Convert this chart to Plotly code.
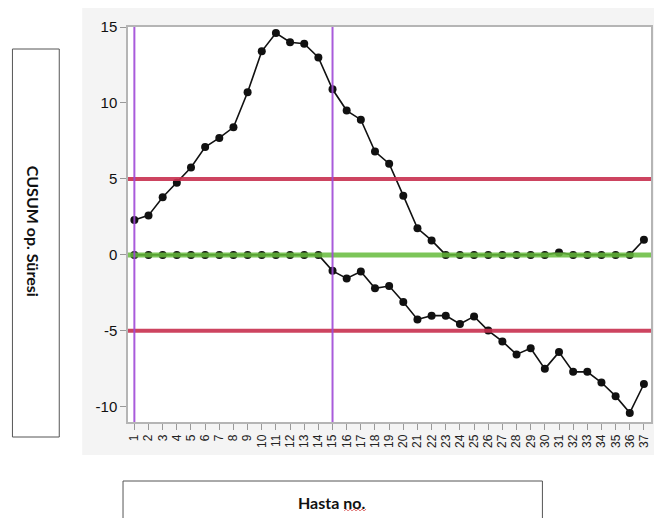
import plotly.graph_objects as go

hasta = list(range(1, 38))
cusum_upper = [2.3, 2.6, 3.8, 4.75, 5.75, 7.1, 7.7, 8.4, 10.7, 13.4, 14.6, 14.0, 13.9, 13.0,
               10.9, 9.5, 8.9, 6.8, 6.0, 3.9, 1.75, 0.95, 0, 0, 0, 0, 0, 0, 0, 0, 0.15,
               0, 0, 0, 0, 0, 1.0]
cusum_lower = [0, 0, 0, 0, 0, 0, 0, 0, 0, 0, 0, 0, 0, 0,
               -1.05, -1.55, -1.1, -2.2, -2.05, -3.1, -4.25, -4.0, -4.0, -4.55, -4.05,
               -4.98, -5.7, -6.55, -6.15, -7.5, -6.4, -7.7, -7.7, -8.4, -9.3, -10.4, -8.5]
limits = [5, -5]
center = 0
vlines = [1, 15]
y_ticks = [-10, -5, 0, 5, 10, 15]
y_ticktext = ["-10", "-5", "0", "5", "10", "15"]

W, H = 654, 510
L, T = 120, 19
PW, PH = 525, 395


def px(x):  # screen x -> paper fraction
    return (x - 8 - L) / PW


def py(y):  # screen y -> paper fraction
    return (T + PH - (y - 8)) / PH


fig = go.Figure()
for ys in (cusum_upper, cusum_lower):
    fig.add_trace(go.Scatter(
        x=hasta, y=ys, mode="lines+markers",
        line=dict(color="#111111", width=1.6),
        marker=dict(color="#111111", size=8),
        showlegend=False, hoverinfo="skip"))

# gray panel background and white plot area
fig.add_shape(type="rect", xref="paper", yref="paper",
              x0=px(82), x1=px(700), y0=py(455), y1=py(7),
              fillcolor="#f4f4f4", line=dict(width=0), layer="below")
fig.add_shape(type="rect", xref="paper", yref="paper", x0=0, x1=1, y0=0, y1=1,
              fillcolor="white", line=dict(width=0), layer="below")

for lv in limits:
    fig.add_shape(type="line", xref="paper", yref="y", x0=0, x1=1, y0=lv, y1=lv,
                  line=dict(color="#c8304f", width=4), opacity=0.9, layer="above")
fig.add_shape(type="line", xref="paper", yref="y", x0=0, x1=1, y0=center, y1=center,
              line=dict(color="#66bb3c", width=5), opacity=0.85, layer="above")
for vx in vlines:
    fig.add_shape(type="line", xref="x", yref="paper", x0=vx, x1=vx, y0=0, y1=1,
                  line=dict(color="#a04ad8", width=2), opacity=0.9, layer="above")

# axis title boxes
fig.add_shape(type="rect", xref="paper", yref="paper",
              x0=px(12), x1=px(59), y0=py(437), y1=py(49),
              line=dict(color="#555555", width=1), fillcolor="white")
fig.add_annotation(xref="paper", yref="paper", x=px(34), y=py(231),
                   xanchor="center", yanchor="middle",
                   text="<b>CUSUM op. Süresi</b>", showarrow=False, textangle=90,
                   font=dict(family="Lato", size=16, color="#111111"))
fig.add_shape(type="rect", xref="paper", yref="paper",
              x0=px(123), x1=px(544), y0=py(540), y1=py(481),
              line=dict(color="#555555", width=1), fillcolor="white")
fig.add_annotation(xref="paper", yref="paper", x=px(332), y=py(502),
                   xanchor="center", yanchor="middle",
                   text="<b>Hasta no.</b>", showarrow=False,
                   font=dict(family="Lato", size=16, color="#111111"))
# spell-check squiggle under "no"
zx = [345 + i * 2 for i in range(12)]
path = "M " + " L ".join(f"{px(x)},{py(509 if i % 2 else 511)}" for i, x in enumerate(zx))
fig.add_shape(type="path", xref="paper", yref="paper", path=path,
              line=dict(color="#e07070", width=1))

fig.update_layout(
    width=W, height=H,
    margin=dict(l=L, r=W - L - PW, t=T, b=H - T - PH),
    paper_bgcolor="white", plot_bgcolor="white",
    font=dict(family="Liberation Sans", color="#222222"),
    xaxis=dict(range=[0.55, 37.5], tickvals=hasta, ticktext=[str(h) for h in hasta],
               tickangle=-90, ticks="outside", ticklen=6, tickcolor="#999999",
               tickfont=dict(size=12, color="#222222"),
               showline=True, linecolor="#b5b5b5", linewidth=1.5, mirror=True,
               showgrid=False, zeroline=False),
    yaxis=dict(range=[-11, 15], tickvals=y_ticks, ticktext=y_ticktext,
               ticks="outside", ticklen=6,
               tickcolor="#999999", tickfont=dict(size=15, color="#111111"),
               showline=True, linecolor="#b5b5b5", linewidth=1.5, mirror=True,
               showgrid=False, zeroline=False),
)

fig.write_html("out.html")
